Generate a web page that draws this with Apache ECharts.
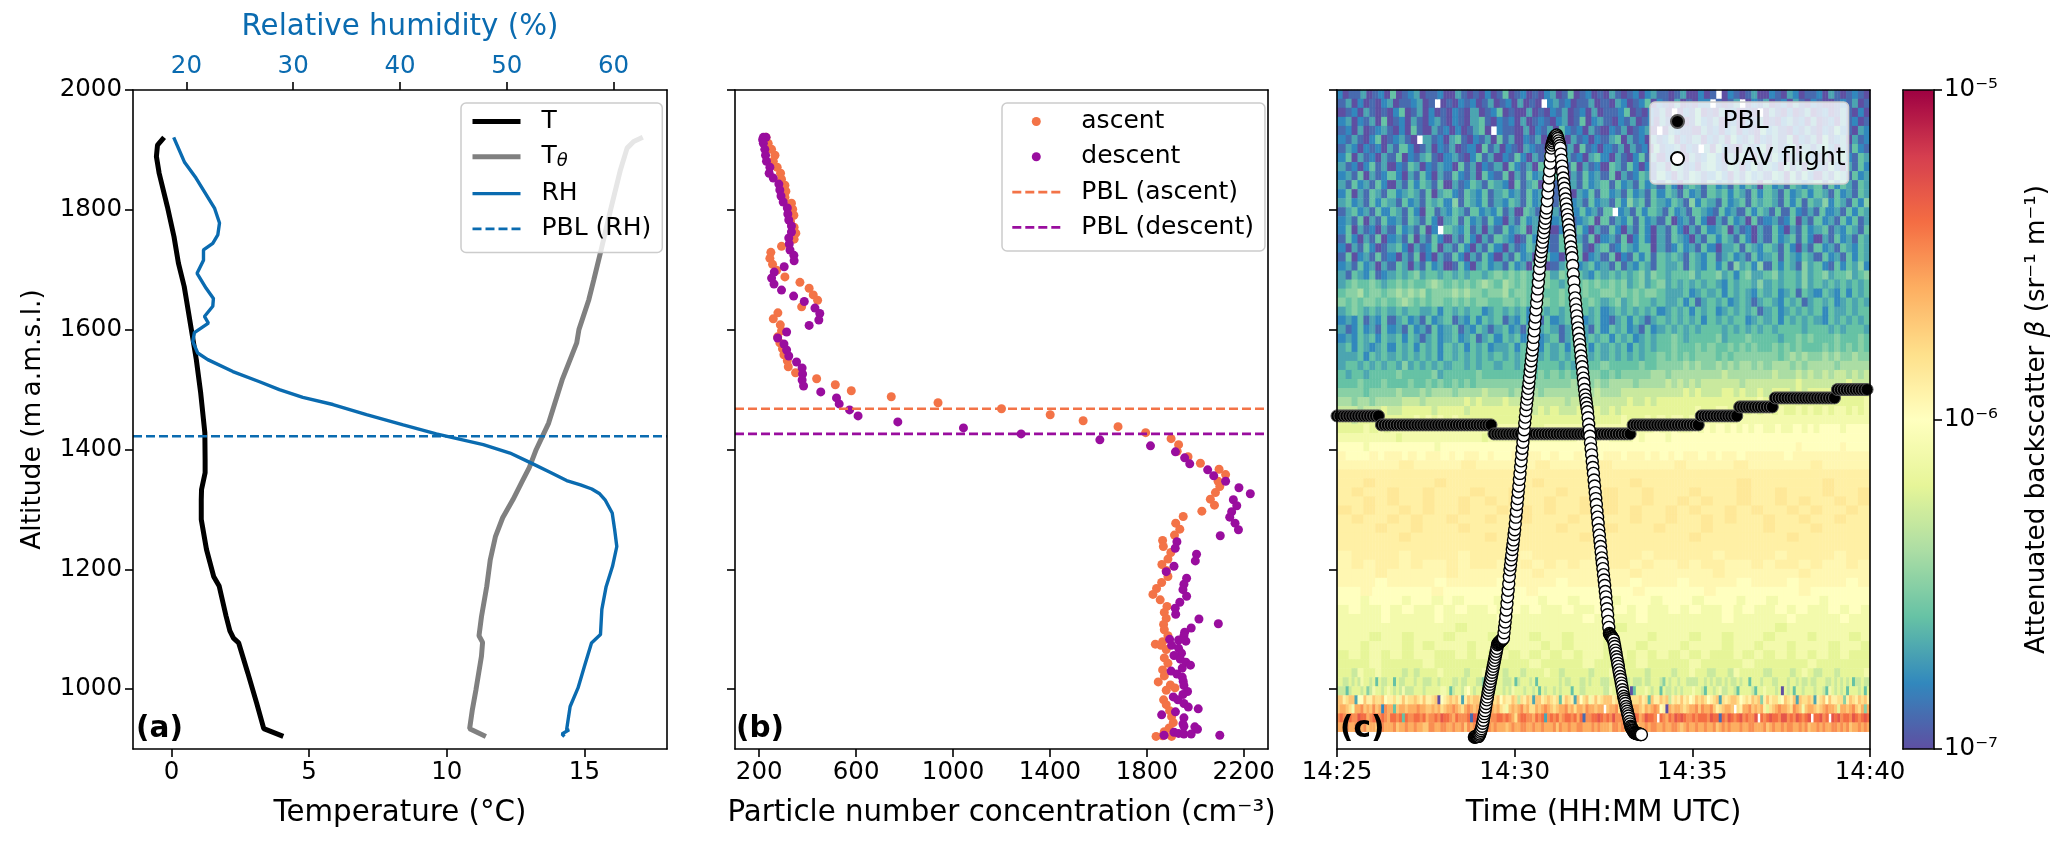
<!DOCTYPE html>
<html><head><meta charset="utf-8"><style>html,body{margin:0;padding:0;background:#fff}#c{width:2067px;height:847px}</style>
<script src="https://cdn.jsdelivr.net/npm/echarts@6/dist/echarts.min.js"></script></head><body><div id="c"></div><script>
const tempAlt=[921,934,977,1027,1077,1085,1097,1122,1172,1188,1233,1283,1316,1333,1361,1383,1428,1494,1550,1600,1650,1672,1711,1755,1805,1861,1889,1908,1921];
const tempVal=[4.06,3.35,3.09,2.77,2.44,2.25,2.12,1.98,1.73,1.53,1.27,1.08,1.08,1.09,1.22,1.22,1.21,1.06,0.9,0.72,0.54,0.46,0.25,0.09,-0.15,-0.45,-0.55,-0.51,-0.27];
const thetaAlt=[921,934,966,999,1055,1078,1089,1121,1171,1216,1255,1286,1316,1345,1370,1400,1444,1516,1578,1600,1650,1683,1728,1800,1867,1903,1914,1921];
const thetaVal=[11.42,10.83,10.93,11.06,11.26,11.3,11.17,11.26,11.45,11.58,11.77,12.03,12.4,12.72,13.0,13.25,13.7,14.19,14.72,14.8,15.16,15.34,15.58,15.95,16.31,16.55,16.79,17.12];
const rhAlt=[921,925,932,932,971,1002,1038,1077,1091,1133,1171,1205,1238,1266,1294,1316,1326,1334,1341,1348,1362,1378,1394,1408,1426,1441,1458,1475,1487,1500,1513,1530,1550,1561,1580,1595,1611,1622,1639,1652,1669,1694,1716,1733,1744,1758,1778,1803,1853,1880,1921];
const rhVal=[55.4,55.17,55.83,55.6,55.93,56.67,57.27,57.93,58.77,58.9,59.3,59.9,60.3,60.1,59.87,59.2,58.7,57.96,56.9,55.6,54.05,52.2,50.3,47.8,43.4,40.3,36.86,33.72,30.9,28.7,26.85,24.35,22.0,21.06,20.6,20.75,22.06,21.69,22.47,22.53,21.85,21.0,21.6,21.6,22.47,22.94,23.1,22.63,20.9,19.81,18.81];
const pblRh=1422, pblAscent=1468, pblDescent=1426;
const ascentAlt=[1921,1911,1901,1891,1881,1871,1861,1851,1841,1831,1821,1811,1801,1791,1781,1771,1761,1751,1739,1729,1719,1709,1699,1688,1679,1669,1658,1649,1638,1628,1618,1608,1598,1588,1578,1568,1558,1548,1538,1528,1518,1508,1498,1488,1478,1468,1458,1448,1438,1428,1418,1408,1397,1388,1377,1367,1358,1347,1338,1328,1317,1307,1297,1288,1277,1267,1257,1248,1238,1228,1217,1208,1198,1188,1178,1168,1158,1149,1138,1128,1118,1108,1099,1089,1079,1075,1073,1066,1052,1043,1032,1022,1012,1007,1002,998,982,974,964,954,944,935,929,922,921,921];
const ascentConc=[228,237,251,265,258,274,288,292,306,310,306,333,338,343,329,344,351,344,292,248,244,255,272,306,368,406,423,441,375,277,258,287,292,276,285,296,302,316,320,350,437,514,580,745,938,1200,1401,1537,1681,1795,1900,1931,1925,1970,2021,2098,2125,2094,2101,2083,2062,2079,2027,1950,1919,1936,1914,1865,1868,1899,1887,1862,1880,1887,1861,1840,1825,1855,1883,1872,1880,1869,1872,1887,1865,1835,1858,1880,1872,1887,1865,1872,1847,1897,1916,1880,1869,1880,1894,1902,1909,1892,1872,1865,1838,1902];
const descentAlt=[1921,1921,1917,1911,1901,1891,1881,1871,1861,1853,1843,1833,1823,1813,1803,1793,1783,1773,1763,1753,1743,1733,1724,1715,1705,1696,1686,1676,1666,1656,1647,1636,1627,1616,1607,1596,1586,1576,1566,1556,1546,1536,1526,1516,1506,1496,1486,1476,1466,1456,1446,1436,1426,1416,1406,1396,1386,1376,1366,1356,1347,1336,1326,1316,1306,1296,1287,1277,1266,1256,1246,1235,1225,1214,1205,1196,1185,1175,1166,1155,1145,1135,1125,1117,1109,1102,1095,1089,1083,1082,1080,1073,1068,1060,1056,1050,1045,1040,1035,1030,1025,1020,1013,1006,996,991,987,982,976,970,967,962,957,952,942,938,937,933,928,926,925,925,923,923];
const descentConc=[217,228,214,217,223,226,230,244,241,258,281,285,290,299,316,318,322,333,333,322,324,327,343,344,303,262,251,261,292,342,386,430,450,446,406,313,276,302,313,322,354,377,379,377,383,454,519,530,573,608,772,1043,1281,1606,1815,1918,1956,1977,2051,2076,2125,2180,2227,2157,2171,2150,2142,2164,2178,2103,1924,1917,2005,2000,1912,1880,1964,1953,1949,1964,1936,1917,1919,2015,2095,1983,1956,1953,1894,1931,1961,1902,1931,1943,1912,1938,1961,1980,1946,1900,1924,1946,1950,1953,1968,1949,1909,1928,1953,1971,2012,1918,1861,1953,1949,1953,1998,2009,1912,1931,1953,1983,1871,2101];
const pblRuns=[[15,1456],[38,1441],[47,1426],[23,1441],[13,1456],[12,1471],[21,1486],[11,1500]];
const uavFirstSecond=232;
const uavAlt=[920,920,920,921,921,921,921,921,923,925,928,931,934,938,943,948,954,959,964,970,976,982,987,993,998,1003,1008,1013,1018,1023,1028,1033,1038,1043,1048,1053,1058,1063,1068,1074,1076,1077,1078,1079,1080,1081,1082,1083,1084,1085,1094,1103,1112,1121,1132,1143,1154,1165,1176,1188,1199,1207,1216,1224,1233,1241,1249,1258,1266,1276,1287,1297,1308,1318,1329,1339,1350,1360,1371,1381,1392,1402,1412,1423,1433,1444,1454,1465,1475,1484,1493,1502,1511,1520,1530,1539,1548,1557,1566,1575,1587,1598,1610,1621,1633,1645,1656,1668,1679,1691,1702,1714,1722,1730,1738,1746,1754,1762,1770,1778,1786,1795,1803,1815,1828,1840,1853,1865,1878,1890,1903,1908,1912,1915,1918,1920,1922,1923,1924,1925,1922,1919,1915,1911,1907,1903,1893,1883,1873,1863,1853,1844,1836,1827,1818,1810,1801,1792,1784,1775,1766,1757,1748,1738,1729,1720,1707,1693,1680,1666,1653,1643,1633,1623,1613,1603,1594,1584,1575,1566,1556,1547,1538,1528,1519,1510,1500,1491,1484,1477,1470,1463,1453,1442,1432,1422,1411,1401,1391,1380,1370,1360,1349,1339,1328,1318,1308,1297,1287,1277,1266,1257,1247,1238,1229,1219,1210,1201,1191,1182,1173,1163,1154,1144,1134,1124,1113,1103,1093,1091,1090,1088,1087,1085,1084,1082,1076,1071,1065,1060,1054,1049,1043,1038,1032,1027,1021,1016,1010,1005,999,994,988,984,980,976,971,967,963,959,955,951,946,942,938,936,934,932,931,929,927,927,927,926,926,926,925,925,925,925,924,924,924];
const backscatterRows=[
"2011301204012301120031010201401201023014012010310120231101300201-0210130021032011203101210",
"1302010230112301-01021201301203010-231201130103201240210301022-1013-021301203102100121301",
"0120310102401302010210301240100301021301203011240102130-0214010312010-031020130120131020",
"2302130401203102310210341021203012102301402310213012031020142130120213010231203012031201",
"1203012310204103120201340-21103021304212031021301230-0321103120230210423102131021421032",
"2131024012310-3120341021304130213021403120213403120312402130213042130213140213041230312",
"1320212031420130213012041302103210231304120213031204123021-304210312403124031342031421",
"2403120314021341023102413021420314203120342031024130214031242031420314203142130342143",
"3120241302143021320413021304213042031403120431420213043120342143024132041304214203142",
"2314031242031420314213042140314231420314231403124314203143124203142314304142031431423",
"3142314203142431403124314320413403142314234142314231420343142314243042314323414243143",
"2403143142343140342143241342314234142032414231423142431423143424314243142342431423143",
"3423142431423143425143241324314234154231423142534143243152431423414343142414352431425",
"1342314243142041324314232413043142314242314-2314243142314321423142431414213142314243",
"2314031423143142034142314203142314234123404132414231402314203142304123124031423142413",
"2403120314231402-43241303142340314023142031420314203142031423403120314203142341324314",
"1420314023140314203142031432014203142031402314024203143203142431420314234142031423143",
"2031420134203124031420314203124302143241034124324403124231420334143243142031423143243",
"1402314120314020314203142031423014203140231402142414343143241342314234143243142314243",
"2314230314303142301420342314230420134123423141324314334143242415342514243153421424352",
"3143241234345344343434434545454345354343243434345354344453445342453345344353453445345",
"3454454345454456545454565465454545434345454545345345343434343243443534344353434343434",
"4556455456565645556565545564554554454545445545454554333423434243432434234143243242434",
"5454554545654545545454554455454455454454543453454434334241343423431343243413434234343",
"3454343434344334243434423434342343434234342343434342343424342343434134234343424334344",
"2324132413423142341324243413242314234142342134243134343434243434423434243434324343434",
"3124231423142314234132431342314234313423142434231423434343444343434343444434443434443",
"2324342434243134234234134243423423413423434243423434454344445344454444344545444544454",
"3424323424342434243424342334243424342434243434243434454445454454545445454544454545454",
"3334243434343434243434343434343434343434343434343445454545554545555555456565565655655",
"3443434343534343434434344344344344434343445444445445555656556565665656665656666566666",
"4344344445444445344444544444445454545454554545555566566666666766666667666767676776767",
"4445444544454454545454555555555555555656565666656666767676777777677777777877777778777",
"5555455556555656665666676665666656666666676667777777777878777887877878887878888888888",
"6656656666777677777787877787777777776777777777877878888888888888888988888888888888889",
"7776777877888887888878888888888787877788787878888888888889889988989898988989898998989",
"8878888888889898989888888888898888888888888889888989899899999999999999999999999999999",
"8888989899999999999999999999998899999999999999999a99a99a9a9a9a9a9a99a99a9a9aaa9aaaa",
"99999999989999999999999899999999999999a9a9a9999a9aaa9aaaaaaaaaaaaaaaaaaaaaaaaaaaaaaaa",
"aaaa9aaaaaaaaaa9aaaaaaaaaaaaaaaaaaaaaaaaaaaaaaaaaaaaaaaaaaaaaaaaaaaaaaaaAaaaaaaAaaaa",
"AaaaAaAAaAaAAaAaAAaAaaAaAAaAaaAaAaAAaAAaAaAaAAaAaAAaAAAAAaAAAAAAAAAA",
"AAAAAbAAAAbAAAAAbAAAAbAAAAAbAAAAbAAAAAbAAAA",
"bbbbbbbbbbbbbbbbbbbbbbbbbbbbbbbbbbbbbbbbbbbb",
"bbBbbbbbBbbbbbbbBbbbbbbbBbbbbbbbbBbbbbbbBbbb",
"bBbbBbbBbbbBbbBbbbBbbbBbbBbbbBbbbBbbBbbbBbbB",
"bbBbBbbBbbBbBbBbbBbbBbBbbBbbBbBbbBbbBbBbbBbB",
"BbBbbBbBbbBbbBbBbBbbBbBbBbbBbBbbBbBbbBbBbbBb",
"bBbbBbBbbBbbBbbBbbbBbBbbBbbBbbBbBbbBbbBbbBbb",
"bbbBbbBbbbBbbbBbbbBbbbBbbbBbbbBbbbbBbbbBbbbb",
"bbbbbBbbbbbbBbbbbbbbBbbbbbbbbBbbbbbbbBbbbbbb",
"bbbbbbbbbbbbbbbbbbbbbbbbbbbbbbbbbbbbbbbbbbbb",
"AbbbbAbbbbAbbbbAbbbbbAbbbAbbbbbAbbbbAbbbbAbb",
"AbAbbAbAAbAbbAAbAbAbAAbbAbAAbAbbAAbAbbAbAAbA",
"AAAbAAAAAbAAAAAAbAAAAAAAbAAAAAAbAAAAAAbAAAAA",
"AAAaAAAAaAAAAaAAAAaAAAAAaAAAaAAAAaAAAaAAAAaA",
"aaAaaaaaAaaaaaaaAaaaaaaaaAaaaaaAaaaaaaaAaaaaa",
"aa9aaa9aa9a9aaa9aaa9aa9aaa9aaa9aaa9aaa9aa9aaaa9aaaa",
"9a99a9a99a9a99a9a9a99a99a9a9a99a9a99a9a99a9a99a9a9",
"9999a9999a99999a9999999a9999a9999999a99999a9999a99",
"99999999999899999999999999899999999999999899999999",
"99989989998999899989989998999899989989998999899989",
"99899989899989989998989998998999899989989989998998",
"89898989988989898989898998989898989889898989898988",
"88898888988888988898888988889888898888988888988888",
"8879889888787888988878898878878889878888788978888788878898878879888878887898788788889",
"8778787988784877884877888788777887888877877888775887888777847888784888888878778887787888778877787877787788875878878877778878787787877878848887888778887887877877888778787878477877",
"7747888785798878987879777888788888998478879a87887487888787988878878487887878884887788888879888878048889878848778787888988748878977887488887488988878087848878887887498787848887848",
"ddbcdd3aadbbdccdabbc9bdbccdcbdbbcd0abcdcdb3bdbcddcc4bdcdacbbdc7cbdc3ddbcdcbc4bdcb3dacd9bdbc8dddbcc9dbcccdbc4dbbdcd7bcbdbcabdcdcabcd3cbcddbcabcbdcd5bdbcc9adcbd3dccdc3bcdadbbcc5bdcbdcdbd",
"deedc9eefdedfde2fee4deedeeefeeddedecdeefedcefedeeeefedecb9dedefdeccedefedcdeefdeceedfeedee-deefcebedeedcedefeab0edeedcdeefdfeefdbcdeed-cbeefdedeb8cdefeedcfed9deedcdefeed8eedefdce5ed",
"fgfegffhggefggfgfeggfg4gffggfgeffgfhggfegfffg1hgffgeffggfgfecfggffegfg3fgfgefggfgeg1ffgghgffgfhfffggfhgefhggf-gfegfhghgffgfgggfhgg1gfhgfghfgffh-gfghggfhhfgfhgfgh-gghfg-hghfggfhgfghgg",
"eefeefeefdeedffeeefdeefeefeeddffeeffeefeefdfefdeeffefeeedefeeffeefeefeeefdfeefeeffeeefefeeedffefeeefdeefeffeefeeffedefeefeefeefdefefeeefeeffeeefdefeefeffeefefdeefefeeffefefdeefefe"
];
const tempTicks=[0,5,10,15], rhTicks=[20,30,40,50,60], concTicks=[200,600,1000,1400,1800,2200], altTicks=[1000,1200,1400,1600,1800,2000];
const timeTicks=[0,300,600,900], timeLabels=['14:25','14:30','14:35','14:40'];
const cbarLabels={'-7':'10⁻⁷','-6':'10⁻⁶','-5':'10⁻⁵'};
const spectralR=['#5e4fa2','#3288bd','#66c2a5','#abdda4','#e6f598','#ffffbf','#fee08b','#fdae61','#f46d43','#d53e4f','#9e0142'];
const zip=(a,b)=>a.map((v,i)=>[v,b[i]]);
const heatCols=180, heatData=[];
const levelOf=ch=>parseInt(ch,36)+(/[A-Z]/.test(ch)?0.5:0);
backscatterRows.forEach((row,r)=>{for(let i=0;i<heatCols;i++){const ch=row[Math.floor(i*row.length/heatCols)];if(ch==='-')continue;heatData.push([i,backscatterRows.length-1-r,-7+levelOf(ch)*0.1]);}});
const pblData=[];let col=0;pblRuns.forEach(([n,a])=>{for(let k=0;k<n;k++){pblData.push([col*5,a]);col++;}});
const uavData=uavAlt.map((a,i)=>[uavFirstSecond+i,a]);
const FF='"DejaVu Sans"',TICK=24.5,LAB=29.3,LEG=25;
const BLUE='#0a6bb0',OR='#f37347',PU='#990d9e';
const lineS={color:'#000',width:1.6};
const L=[133,735,1337],W=534,T=90,H=659;
function ax(gridIndex,position,min,max,extra){return Object.assign({type:'value',gridIndex,position,min,max,z:10,splitLine:{show:false},axisLine:{show:true,onZero:false,lineStyle:lineS},axisTick:{show:false},axisLabel:{show:false}},extra||{});}
const ticks=(vals,label,color,fmt)=>({axisTick:{show:true,length:8,inside:false,lineStyle:{color:'#000',width:1.6},customValues:vals},axisLabel:label?{show:true,customValues:vals,color:color||'#000',fontFamily:FF,fontSize:TICK,margin:11,formatter:fmt||(v=>String(v))}:{show:false}});
const nm=(name,gap,size)=>({name,nameLocation:'middle',nameGap:gap,nameTextStyle:{fontFamily:FF,fontSize:size||LAB,color:'#000'}});
const grid=[{left:L[0],top:T,width:W,height:H},{left:L[1],top:T,width:533,height:H},{left:L[2],top:T,width:533,height:H},{left:L[2],top:T,width:533,height:641.7},{left:1903,top:T,width:31,height:H}];
const xAxis=[
ax(0,'bottom',-1.4,18,Object.assign(ticks(tempTicks,true),nm('Temperature (°C)',50))),
ax(0,'top',15,65,Object.assign(ticks(rhTicks,true,BLUE),{name:'Relative humidity (%)',nameLocation:'middle',nameGap:48,nameTextStyle:{fontFamily:FF,fontSize:LAB,color:BLUE}})),
ax(1,'bottom',100,2300,Object.assign(ticks(concTicks,true),nm('Particle number concentration (cm⁻³)',50))),
ax(1,'top',0,1),
ax(2,'bottom',0,900,Object.assign(ticks(timeTicks,true,'#000',v=>timeLabels[timeTicks.indexOf(v)]),nm('Time (HH:MM UTC)',50))),
ax(2,'top',0,1),
{type:'category',gridIndex:3,show:false,data:Array.from({length:heatCols},(_,i)=>i)},
ax(4,'bottom',0,1),ax(4,'top',0,1)];
const yAxis=[
ax(0,'left',900,2000,Object.assign(ticks(altTicks,true),nm('Altitude (m\u2009a.m.s.l.)',86,26.5))),
ax(0,'right',0,1),
ax(1,'left',900,2000,ticks(altTicks,false)),
ax(1,'right',0,1),
ax(2,'left',900,2000,ticks(altTicks,false)),
ax(2,'right',0,1),
{type:'category',gridIndex:3,show:false,data:backscatterRows.map((_,i)=>i)},
ax(4,'left',0,1),
{type:'log',logBase:10,gridIndex:4,position:'right',min:1e-7,max:1e-5,z:10,splitLine:{show:false},minorTick:{show:false},axisLine:{show:true,onZero:false,lineStyle:lineS},axisTick:{show:true,length:8,lineStyle:{color:'#000',width:1.6}},axisLabel:{show:true,color:'#000',fontFamily:FF,fontSize:TICK,margin:10,formatter:v=>cbarLabels[String(Math.round(Math.log10(v)))]},name:'{a|Attenuated backscatter }{b|β}{a| (sr⁻¹ m⁻¹)}',nameLocation:'middle',nameGap:90,nameRotate:90,nameTextStyle:{fontFamily:FF,fontSize:26.2,color:'#000',rich:{a:{fontFamily:FF,fontSize:26.2,color:'#000'},b:{fontFamily:FF,fontSize:26.2,fontStyle:'italic',color:'#000'}}}}];
const line=(name,x,y,xi,yi,color,width,dash)=>({name,type:'line',xAxisIndex:xi,yAxisIndex:yi,data:zip(x,y),showSymbol:false,symbol:'none',smooth:false,lineStyle:{color,width,type:dash?[9,4]:'solid'},itemStyle:{color},z:3,silent:true,animation:false});
const scat=(name,data,xi,yi,size,color,border,bw)=>({name,type:'scatter',xAxisIndex:xi,yAxisIndex:yi,data,symbolSize:size,clip:true,itemStyle:{color,opacity:1,borderColor:border||color,borderWidth:bw||0},silent:true,animation:false});
const series=[
{name:'backscatter',type:'heatmap',xAxisIndex:6,yAxisIndex:6,data:heatData,progressive:0,silent:true,animation:false,z:1},
line('T',tempVal,tempAlt,0,0,'#000',5),
line('Tθ',thetaVal,thetaAlt,0,0,'#808080',5),
line('RH',rhVal,rhAlt,1,0,BLUE,3.4),
line('PBL (RH)',[15,65],[pblRh,pblRh],1,0,BLUE,2.6,true),
scat('ascent',zip(ascentConc,ascentAlt),2,2,9,OR),
scat('descent',zip(descentConc,descentAlt),2,2,9,PU),
line('PBL (ascent)',[100,2300],[pblAscent,pblAscent],2,2,OR,2.6,true),
line('PBL (descent)',[100,2300],[pblDescent,pblDescent],2,2,PU,2.6,true),
scat('PBL',pblData,4,4,12,'#000','#555',1),
scat('UAV flight',uavData,4,4,12,'#fff','#000',1.4)];
const lineItem=(name,width)=>({name,itemStyle:{opacity:0},lineStyle:{width}});
const lg=(data,left,top,iw,ih,gap,pad,extra)=>Object.assign({data,orient:'vertical',left,top,itemWidth:iw,itemHeight:ih,itemGap:gap,padding:pad,selectedMode:false,backgroundColor:'rgba(255,255,255,0.8)',borderColor:'#ccc',borderWidth:1.5,borderRadius:5,z:8,textStyle:{color:'#000',fontFamily:FF,fontSize:LEG,padding:[0,0,0,16]}},extra||{});
const legend=[
lg([lineItem('T',5),lineItem('Tθ',5),lineItem('RH',3.4),lineItem('PBL (RH)',2.6)],461,103,48,9,10.3,[6,11,11,9],{formatter:n=>n==='Tθ'?'{t|T}{s|θ}':n,textStyle:{color:'#000',fontFamily:FF,fontSize:LEG,padding:[0,0,0,16],rich:{t:{fontFamily:FF,fontSize:LEG,color:'#000'},s:{fontFamily:FF,fontSize:18,fontStyle:'italic',color:'#000',padding:[10,0,0,0]}}}}),
lg(['ascent','descent',lineItem('PBL (ascent)',2.6),lineItem('PBL (descent)',2.6)],1002,103,48,9,10.3,[6,11,11,9]),
lg(['PBL','UAV flight'],1650,102,48,13,12,[7,3,13,20])];
const visualMap=[{type:'continuous',seriesIndex:0,dimension:2,min:-7,max:-5,left:1903,top:T,itemWidth:31,itemHeight:H,padding:0,text:null,show:true,calculable:false,hoverLink:false,inRange:{color:spectralR},showLabel:false,textStyle:{fontSize:0},z:2}];
const panelLabel=(text,x,y)=>({type:'text',x,y,z:20,style:{text,fontFamily:FF,fontWeight:'bold',fontSize:29.5,fill:'#000',verticalAlign:'bottom'}});
const chart=echarts.init(document.getElementById('c'),null,{renderer:'canvas'});
chart.setOption({animation:false,backgroundColor:'#fff',grid,xAxis,yAxis,series,legend,visualMap,tooltip:{show:false},
graphic:[panelLabel('(a)',136,744),panelLabel('(b)',736,744),panelLabel('(c)',1340,744)]});
</script></body></html>
